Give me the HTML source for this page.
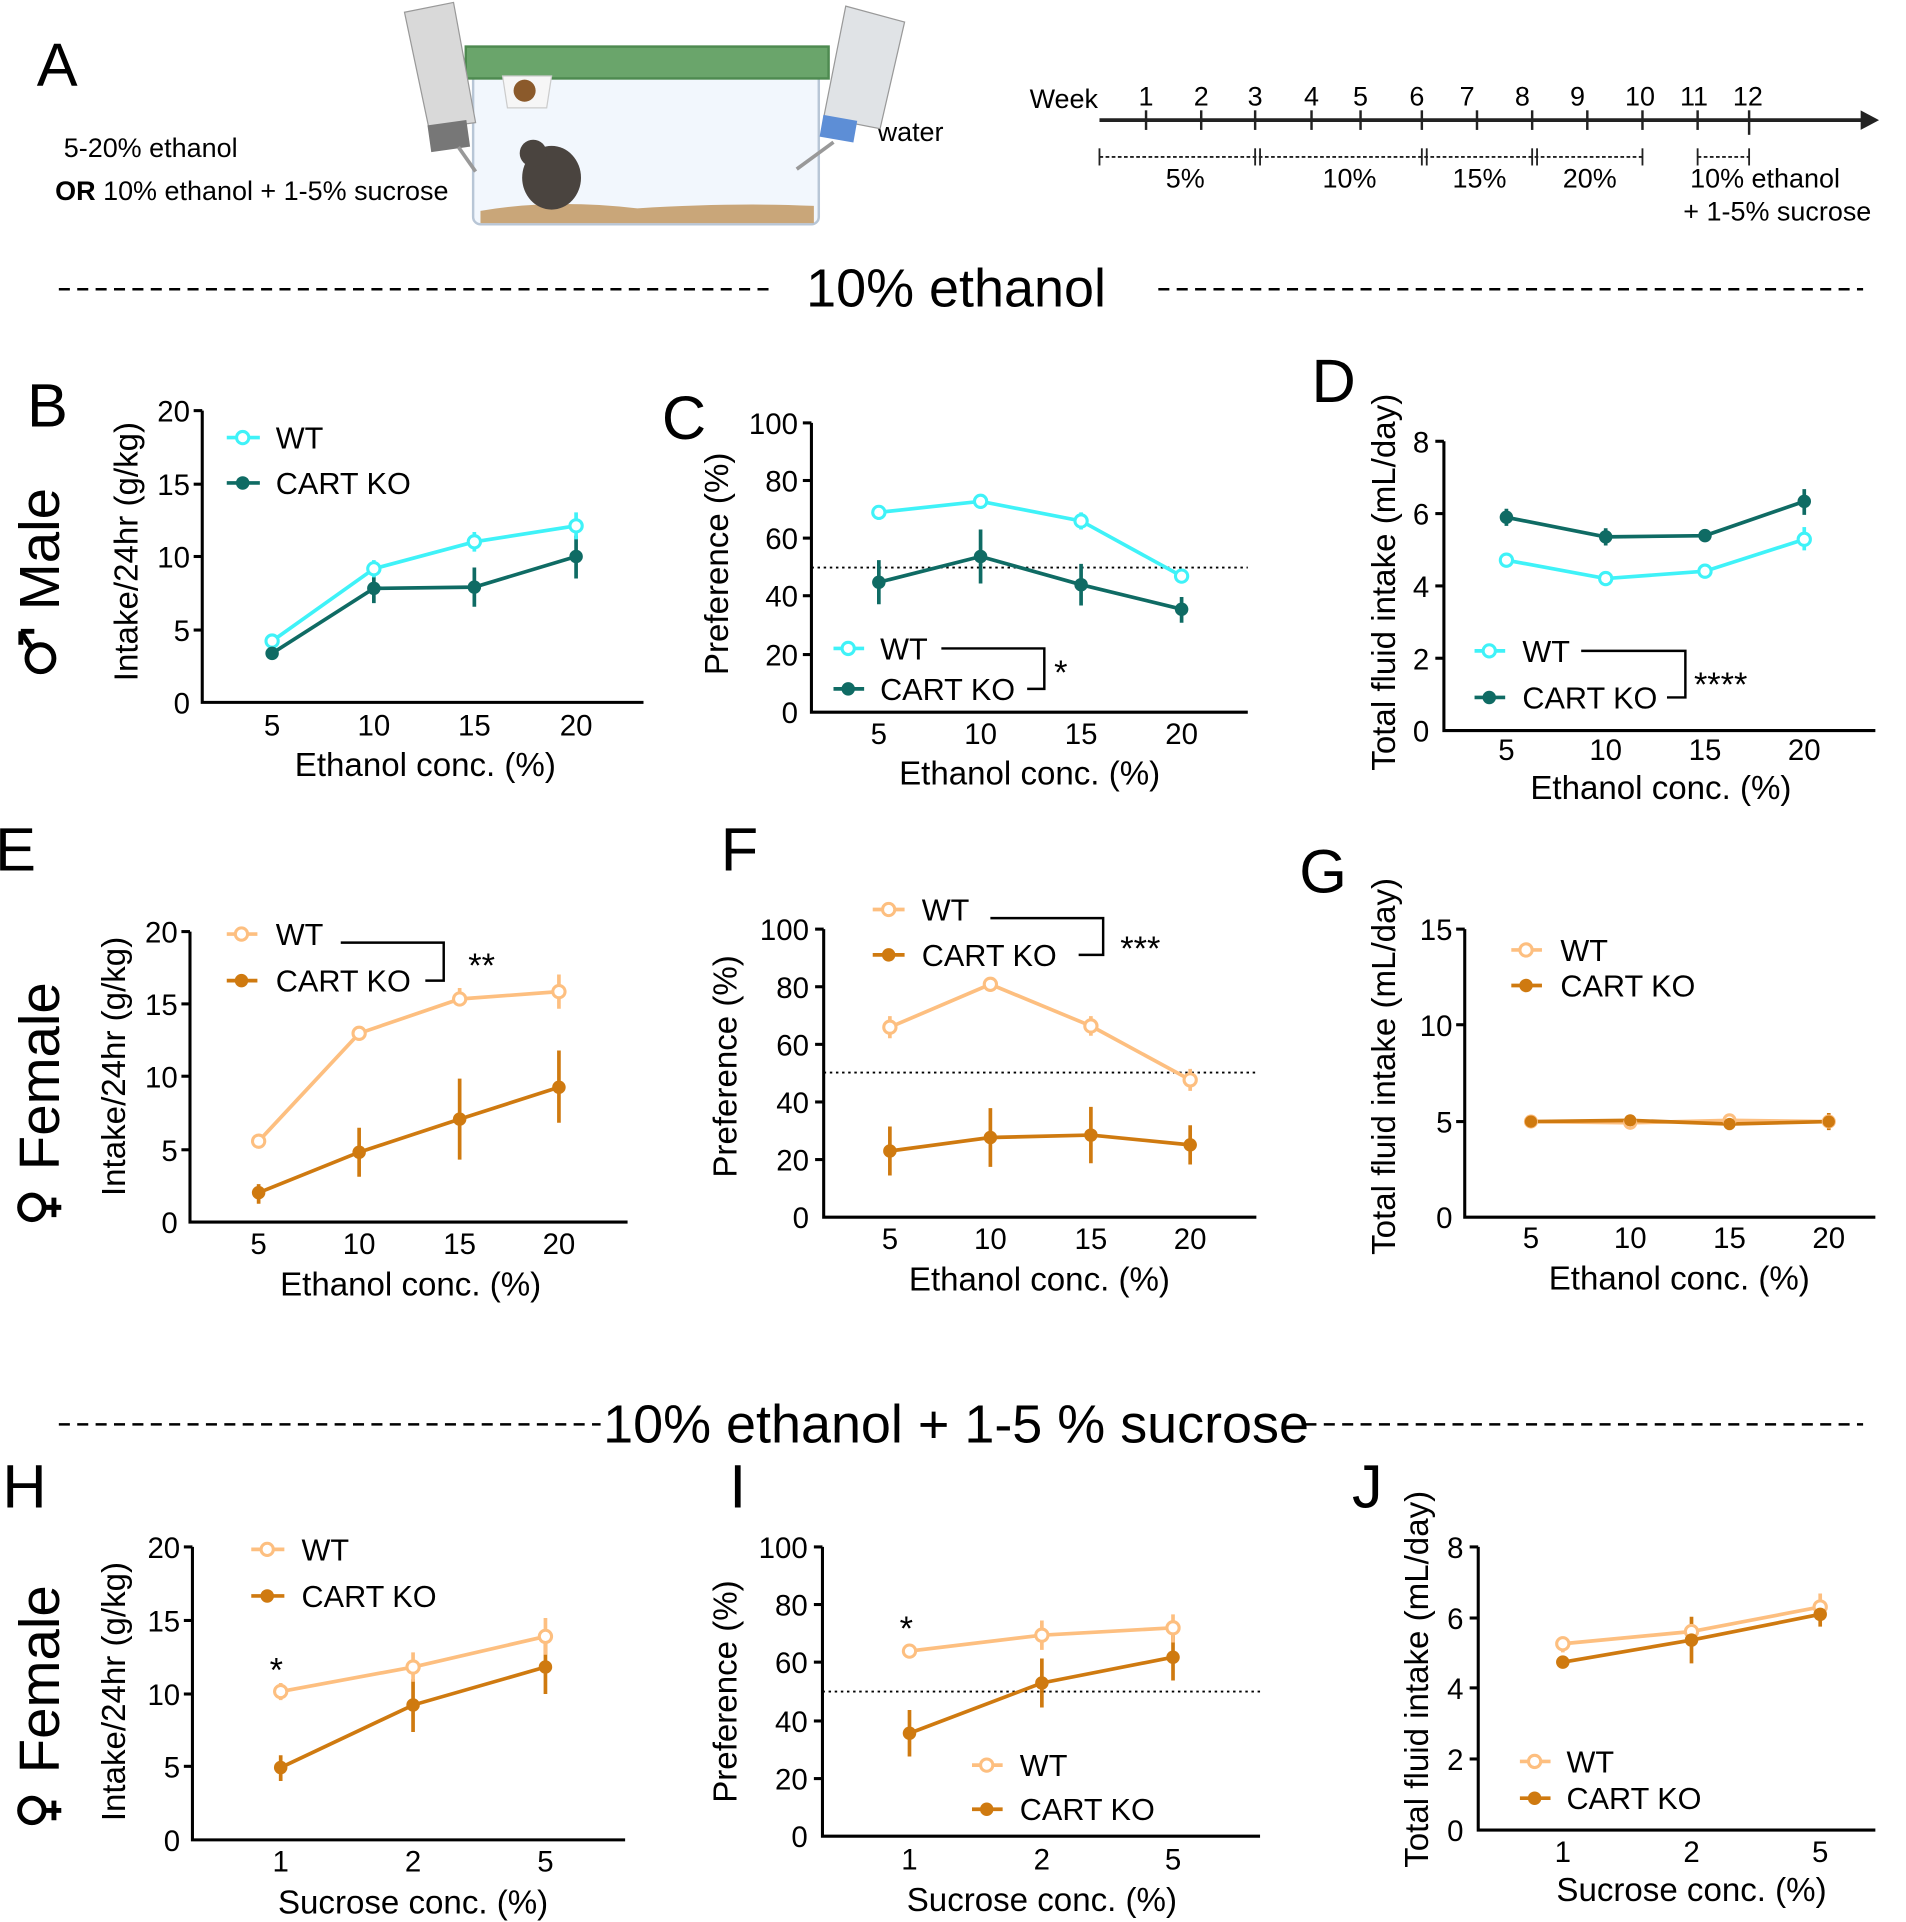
<!DOCTYPE html>
<html><head><meta charset="utf-8"><style>
html,body{margin:0;padding:0;background:#fff}
svg{display:block}
text{font-family:"Liberation Sans",sans-serif;fill:#000}
.t{font-size:24px}
.al{font-size:27px}
.lg{font-size:25px}
.pl{font-size:50px}
.ax{stroke:#000;stroke-width:2.5;fill:none}
.w{stroke:#3ff2f8;stroke-width:3;fill:none}
.k{stroke:#0f6b64;stroke-width:3;fill:none}
.wo{stroke:#fdbf80;stroke-width:3;fill:none}
.ko{stroke:#cf7a10;stroke-width:3;fill:none}
.dot{stroke:#000;stroke-width:1.5;stroke-dasharray:2 3;fill:none}
.dash{stroke:#000;stroke-width:2;stroke-dasharray:9 6;fill:none}
.sx{stroke:#000;stroke-width:4;fill:none}
</style></head><body>
<svg width="1906" height="1922" viewBox="0 0 1555 1568" preserveAspectRatio="none" xmlns="http://www.w3.org/2000/svg">
<!-- Panel A -->
<text x="30" y="70" class="pl">A</text>
<text x="52" y="128" style="font-size:22px">5-20% ethanol</text>
<text x="45" y="163" style="font-size:22px"><tspan font-weight="bold">OR</tspan> 10% ethanol + 1-5% sucrose</text>
<text x="716" y="115" style="font-size:22px">water</text>
<rect x="386" y="55" width="282" height="128" rx="6" fill="#f2f7fd" stroke="#b8c6d6" stroke-width="2"/>
<rect x="380" y="38" width="296" height="26" fill="#6aa56b" stroke="#4e8a50" stroke-width="2"/>
<path d="M392 172 Q450 162 520 170 Q600 165 664 168 L664 182 L392 182Z" fill="#c9a679"/>
<path d="M410 62 L450 62 L446 88 L414 88Z" fill="#f6f6f6" stroke="#ccc"/>
<circle cx="428" cy="74" r="9" fill="#8b5a2b"/>
<ellipse cx="450" cy="145" rx="24" ry="26" fill="#4a443f"/>
<circle cx="435" cy="125" r="11" fill="#4a443f"/>
<path d="M330 10 L370 2 L388 100 L350 105Z" fill="#d9d9d9" stroke="#999"/>
<rect x="350" y="100" width="32" height="22" fill="#777" transform="rotate(-8 366 110)"/>
<path d="M374 120 L388 140" stroke="#999" stroke-width="3"/>
<path d="M690 5 L738 18 L718 105 L672 96Z" fill="#e0e3e6" stroke="#999"/>
<rect x="670" y="96" width="28" height="18" fill="#5d8ed6" transform="rotate(10 684 105)"/>
<path d="M680 116 L650 138" stroke="#999" stroke-width="3"/>
<!-- timeline -->
<text x="840" y="88" style="font-size:22px">Week</text>
<line x1="897" y1="98" x2="1520" y2="98" stroke="#222" stroke-width="3"/>
<path d="M1518 90 L1533 98 L1518 106Z" fill="#222"/>
<g stroke="#222" stroke-width="2">
<line x1="935" y1="90" x2="935" y2="106"/><line x1="980" y1="90" x2="980" y2="106"/><line x1="1024" y1="90" x2="1024" y2="106"/><line x1="1070" y1="90" x2="1070" y2="106"/><line x1="1110" y1="90" x2="1110" y2="106"/><line x1="1160" y1="90" x2="1160" y2="106"/><line x1="1205" y1="90" x2="1205" y2="106"/><line x1="1250" y1="90" x2="1250" y2="106"/><line x1="1295" y1="90" x2="1295" y2="106"/><line x1="1340" y1="90" x2="1340" y2="106"/><line x1="1385" y1="90" x2="1385" y2="106"/><line x1="1427" y1="90" x2="1427" y2="110"/>
</g>
<g style="font-size:22px" text-anchor="middle">
<text x="935" y="86">1</text><text x="980" y="86">2</text><text x="1024" y="86">3</text><text x="1070" y="86">4</text><text x="1110" y="86">5</text><text x="1156" y="86">6</text><text x="1197" y="86">7</text><text x="1242" y="86">8</text><text x="1287" y="86">9</text><text x="1338" y="86">10</text><text x="1382" y="86">11</text><text x="1426" y="86">12</text>
<text x="967" y="153">5%</text><text x="1101" y="153">10%</text><text x="1207" y="153">15%</text><text x="1297" y="153">20%</text><text x="1440" y="153">10% ethanol</text><text x="1450" y="180">+ 1-5% sucrose</text>
</g>
<g stroke="#222" stroke-width="1.5" stroke-dasharray="3 2">
<line x1="897" y1="128" x2="1340" y2="128"/><line x1="1385" y1="128" x2="1427" y2="128"/>
</g>
<g stroke="#222" stroke-width="1.5"><line x1="897" y1="121" x2="897" y2="135"/><line x1="1024" y1="121" x2="1024" y2="135"/><line x1="1028" y1="121" x2="1028" y2="135"/><line x1="1160" y1="121" x2="1160" y2="135"/><line x1="1164" y1="121" x2="1164" y2="135"/><line x1="1250" y1="121" x2="1250" y2="135"/><line x1="1254" y1="121" x2="1254" y2="135"/><line x1="1340" y1="121" x2="1340" y2="135"/><line x1="1385" y1="121" x2="1385" y2="135"/><line x1="1427" y1="121" x2="1427" y2="135"/></g>

<!-- section headings -->
<line x1="48" y1="236" x2="632" y2="236" class="dash"/>
<line x1="945" y1="236" x2="1520" y2="236" class="dash"/>
<text x="780" y="250" text-anchor="middle" style="font-size:44px">10% ethanol</text>
<line x1="48" y1="1162" x2="490" y2="1162" class="dash"/>
<line x1="1065" y1="1162" x2="1520" y2="1162" class="dash"/>
<text x="780" y="1177" text-anchor="middle" style="font-size:44px">10% ethanol + 1-5 % sucrose</text>

<!-- sex labels -->
<text transform="translate(48,448) rotate(-90)" text-anchor="middle" style="font-size:46px">Male</text>
<circle cx="33" cy="537" r="11" class="sx"/><path d="M26 529 L17 515 M17 515 L17 526 M17 515 L28 515" class="sx"/>
<text transform="translate(48,878) rotate(-90)" text-anchor="middle" style="font-size:46px">Female</text>
<circle cx="26" cy="985" r="10" class="sx"/><path d="M36 985 H50 M44 977 V993" class="sx"/>
<text transform="translate(48,1370) rotate(-90)" text-anchor="middle" style="font-size:46px">Female</text>
<circle cx="26" cy="1477" r="10" class="sx"/><path d="M36 1477 H50 M44 1469 V1485" class="sx"/>

<!-- ===== B ===== -->
<text x="22" y="348" class="pl">B</text>
<path d="M165 335 V573 H525" class="ax"/>
<g class="ax"><line x1="158" y1="335" x2="165" y2="335"/><line x1="158" y1="395" x2="165" y2="395"/><line x1="158" y1="454" x2="165" y2="454"/><line x1="158" y1="514" x2="165" y2="514"/></g>
<g class="t" text-anchor="end"><text x="155" y="344">20</text><text x="155" y="404">15</text><text x="155" y="463">10</text><text x="155" y="523">5</text><text x="155" y="582">0</text></g>
<g class="t" text-anchor="middle"><text x="222" y="600">5</text><text x="305" y="600">10</text><text x="387" y="600">15</text><text x="470" y="600">20</text></g>
<text x="347" y="633" class="al" text-anchor="middle">Ethanol conc. (%)</text>
<text transform="translate(112,450) rotate(-90)" class="al" text-anchor="middle">Intake/24hr (g/kg)</text>
<g class="k"><path d="M222 528V538M305 468V492M387 463V495M470 437V472"/></g>
<g class="w"><path d="M222 519V527M305 457V471M387 434V450M470 418V440"/></g>
<polyline class="w" points="222,523 305,464 387,442 470,429"/>
<polyline class="k" points="222,533 305,480 387,479 470,454"/>
<g fill="#fff" stroke="#3ff2f8" stroke-width="2.5"><circle cx="222" cy="523" r="5"/><circle cx="305" cy="464" r="5"/><circle cx="387" cy="442" r="5"/><circle cx="470" cy="429" r="5"/></g>
<g fill="#0f6b64"><circle cx="222" cy="533" r="5.5"/><circle cx="305" cy="480" r="5.5"/><circle cx="387" cy="479" r="5.5"/><circle cx="470" cy="454" r="5.5"/></g>
<line x1="185" y1="357" x2="212" y2="357" class="w"/><circle cx="198" cy="357" r="5" fill="#fff" stroke="#3ff2f8" stroke-width="2.5"/>
<line x1="185" y1="394" x2="212" y2="394" class="k"/><circle cx="198" cy="394" r="5.5" fill="#0f6b64"/>
<text x="225" y="366" class="lg">WT</text><text x="225" y="403" class="lg">CART KO</text>

<!-- ===== C ===== -->
<text x="540" y="358" class="pl">C</text>
<path d="M662 345 V581 H1018" class="ax"/>
<g class="ax"><line x1="655" y1="345" x2="662" y2="345"/><line x1="655" y1="392" x2="662" y2="392"/><line x1="655" y1="439" x2="662" y2="439"/><line x1="655" y1="486" x2="662" y2="486"/><line x1="655" y1="534" x2="662" y2="534"/></g>
<g class="t" text-anchor="end"><text x="651" y="354">100</text><text x="651" y="401">80</text><text x="651" y="448">60</text><text x="651" y="495">40</text><text x="651" y="543">20</text><text x="651" y="590">0</text></g>
<g class="t" text-anchor="middle"><text x="717" y="607">5</text><text x="800" y="607">10</text><text x="882" y="607">15</text><text x="964" y="607">20</text></g>
<text x="840" y="640" class="al" text-anchor="middle">Ethanol conc. (%)</text>
<text transform="translate(594,460) rotate(-90)" class="al" text-anchor="middle">Preference (%)</text>
<line x1="662" y1="463" x2="1018" y2="463" class="dot"/>
<g class="k"><path d="M717 457V493M800 432V476M882 460V494M964 487V508"/></g>
<g class="w"><path d="M717 412V424M800 403V415M882 418V432M964 464V476"/></g>
<polyline class="w" points="717,418 800,409 882,425 964,470"/>
<polyline class="k" points="717,475 800,454 882,477 964,497"/>
<g fill="#fff" stroke="#3ff2f8" stroke-width="2.5"><circle cx="717" cy="418" r="5"/><circle cx="800" cy="409" r="5"/><circle cx="882" cy="425" r="5"/><circle cx="964" cy="470" r="5"/></g>
<g fill="#0f6b64"><circle cx="717" cy="475" r="5.5"/><circle cx="800" cy="454" r="5.5"/><circle cx="882" cy="477" r="5.5"/><circle cx="964" cy="497" r="5.5"/></g>
<line x1="680" y1="529" x2="705" y2="529" class="w"/><circle cx="692" cy="529" r="5" fill="#fff" stroke="#3ff2f8" stroke-width="2.5"/>
<line x1="680" y1="562" x2="705" y2="562" class="k"/><circle cx="692" cy="562" r="5.5" fill="#0f6b64"/>
<text x="718" y="538" class="lg">WT</text><text x="718" y="571" class="lg">CART KO</text>
<path d="M768 529 H852 V562 H838" class="ax" style="stroke-width:2"/>
<text x="860" y="558" style="font-size:28px">*</text>

<!-- ===== D ===== -->
<text x="1070" y="328" class="pl">D</text>
<path d="M1178 360 V596 H1530" class="ax"/>
<g class="ax"><line x1="1171" y1="360" x2="1178" y2="360"/><line x1="1171" y1="419" x2="1178" y2="419"/><line x1="1171" y1="478" x2="1178" y2="478"/><line x1="1171" y1="537" x2="1178" y2="537"/></g>
<g class="t" text-anchor="end"><text x="1166" y="369">8</text><text x="1166" y="428">6</text><text x="1166" y="487">4</text><text x="1166" y="546">2</text><text x="1166" y="605">0</text></g>
<g class="t" text-anchor="middle"><text x="1229" y="620">5</text><text x="1310" y="620">10</text><text x="1391" y="620">15</text><text x="1472" y="620">20</text></g>
<text x="1355" y="652" class="al" text-anchor="middle">Ethanol conc. (%)</text>
<text transform="translate(1138,475) rotate(-90)" class="al" text-anchor="middle">Total fluid intake (mL/day)</text>
<g class="k"><path d="M1229 415V429M1310 431V445M1391 432V442M1472 399V420"/></g>
<g class="w"><path d="M1472 430V449"/></g>
<polyline class="w" points="1229,457 1310,472 1391,466 1472,440"/>
<polyline class="k" points="1229,422 1310,438 1391,437 1472,409"/>
<g fill="#fff" stroke="#3ff2f8" stroke-width="2.5"><circle cx="1229" cy="457" r="5"/><circle cx="1310" cy="472" r="5"/><circle cx="1391" cy="466" r="5"/><circle cx="1472" cy="440" r="5"/></g>
<g fill="#0f6b64"><circle cx="1229" cy="422" r="5.5"/><circle cx="1310" cy="438" r="5.5"/><circle cx="1391" cy="437" r="5.5"/><circle cx="1472" cy="409" r="5.5"/></g>
<line x1="1203" y1="531" x2="1228" y2="531" class="w"/><circle cx="1215" cy="531" r="5" fill="#fff" stroke="#3ff2f8" stroke-width="2.5"/>
<line x1="1203" y1="569" x2="1228" y2="569" class="k"/><circle cx="1215" cy="569" r="5.5" fill="#0f6b64"/>
<text x="1242" y="540" class="lg">WT</text><text x="1242" y="578" class="lg">CART KO</text>
<path d="M1290 531 H1375 V569 H1360" class="ax" style="stroke-width:2"/>
<text x="1382" y="568" style="font-size:28px">****</text>

<!-- ===== E ===== -->
<text x="-4" y="710" class="pl">E</text>
<path d="M155 760 V997 H512" class="ax"/>
<g class="ax"><line x1="148" y1="760" x2="155" y2="760"/><line x1="148" y1="819" x2="155" y2="819"/><line x1="148" y1="878" x2="155" y2="878"/><line x1="148" y1="938" x2="155" y2="938"/></g>
<g class="t" text-anchor="end"><text x="145" y="769">20</text><text x="145" y="828">15</text><text x="145" y="887">10</text><text x="145" y="947">5</text><text x="145" y="1006">0</text></g>
<g class="t" text-anchor="middle"><text x="211" y="1023">5</text><text x="293" y="1023">10</text><text x="375" y="1023">15</text><text x="456" y="1023">20</text></g>
<text x="335" y="1057" class="al" text-anchor="middle">Ethanol conc. (%)</text>
<text transform="translate(102,870) rotate(-90)" class="al" text-anchor="middle">Intake/24hr (g/kg)</text>
<g class="ko"><path d="M211 966V982M293 920V960M375 880V946M456 857V916"/></g>
<g class="wo"><path d="M375 806V821M456 795V823"/></g>
<polyline class="wo" points="211,931 293,843 375,815 456,809"/>
<polyline class="ko" points="211,973 293,940 375,913 456,887"/>
<g fill="#fff" stroke="#fdbf80" stroke-width="2.5"><circle cx="211" cy="931" r="5"/><circle cx="293" cy="843" r="5"/><circle cx="375" cy="815" r="5"/><circle cx="456" cy="809" r="5"/></g>
<g fill="#cf7a10"><circle cx="211" cy="973" r="5.5"/><circle cx="293" cy="940" r="5.5"/><circle cx="375" cy="913" r="5.5"/><circle cx="456" cy="887" r="5.5"/></g>
<line x1="185" y1="762" x2="210" y2="762" class="wo"/><circle cx="197" cy="762" r="5" fill="#fff" stroke="#fdbf80" stroke-width="2.5"/>
<line x1="185" y1="800" x2="210" y2="800" class="ko"/><circle cx="197" cy="800" r="5.5" fill="#cf7a10"/>
<text x="225" y="771" class="lg">WT</text><text x="225" y="809" class="lg">CART KO</text>
<path d="M278 769 H362 V800 H347" class="ax" style="stroke-width:2"/>
<text x="382" y="797" style="font-size:28px">**</text>

<!-- ===== F ===== -->
<text x="588" y="710" class="pl">F</text>
<path d="M672 758 V993 H1025" class="ax"/>
<g class="ax"><line x1="665" y1="758" x2="672" y2="758"/><line x1="665" y1="805" x2="672" y2="805"/><line x1="665" y1="852" x2="672" y2="852"/><line x1="665" y1="899" x2="672" y2="899"/><line x1="665" y1="946" x2="672" y2="946"/></g>
<g class="t" text-anchor="end"><text x="660" y="767">100</text><text x="660" y="814">80</text><text x="660" y="861">60</text><text x="660" y="908">40</text><text x="660" y="955">20</text><text x="660" y="1002">0</text></g>
<g class="t" text-anchor="middle"><text x="726" y="1019">5</text><text x="808" y="1019">10</text><text x="890" y="1019">15</text><text x="971" y="1019">20</text></g>
<text x="848" y="1053" class="al" text-anchor="middle">Ethanol conc. (%)</text>
<text transform="translate(601,870) rotate(-90)" class="al" text-anchor="middle">Preference (%)</text>
<line x1="672" y1="875" x2="1025" y2="875" class="dot"/>
<g class="ko"><path d="M726 919V959M808 904V952M890 903V949M971 918V950"/></g>
<g class="wo"><path d="M726 829V847M890 829V845M971 872V890"/></g>
<polyline class="wo" points="726,838 808,803 890,837 971,881"/>
<polyline class="ko" points="726,939 808,928 890,926 971,934"/>
<g fill="#fff" stroke="#fdbf80" stroke-width="2.5"><circle cx="726" cy="838" r="5"/><circle cx="808" cy="803" r="5"/><circle cx="890" cy="837" r="5"/><circle cx="971" cy="881" r="5"/></g>
<g fill="#cf7a10"><circle cx="726" cy="939" r="5.5"/><circle cx="808" cy="928" r="5.5"/><circle cx="890" cy="926" r="5.5"/><circle cx="971" cy="934" r="5.5"/></g>
<line x1="712" y1="742" x2="738" y2="742" class="wo"/><circle cx="725" cy="742" r="5" fill="#fff" stroke="#fdbf80" stroke-width="2.5"/>
<line x1="712" y1="779" x2="738" y2="779" class="ko"/><circle cx="725" cy="779" r="5.5" fill="#cf7a10"/>
<text x="752" y="751" class="lg">WT</text><text x="752" y="788" class="lg">CART KO</text>
<path d="M808 749 H900 V779 H880" class="ax" style="stroke-width:2"/>
<text x="914" y="783" style="font-size:28px">***</text>

<!-- ===== G ===== -->
<text x="1060" y="728" class="pl">G</text>
<path d="M1195 758 V993 H1530" class="ax"/>
<g class="ax"><line x1="1188" y1="758" x2="1195" y2="758"/><line x1="1188" y1="836" x2="1195" y2="836"/><line x1="1188" y1="915" x2="1195" y2="915"/></g>
<g class="t" text-anchor="end"><text x="1185" y="767">15</text><text x="1185" y="845">10</text><text x="1185" y="924">5</text><text x="1185" y="1002">0</text></g>
<g class="t" text-anchor="middle"><text x="1249" y="1018">5</text><text x="1330" y="1018">10</text><text x="1411" y="1018">15</text><text x="1492" y="1018">20</text></g>
<text x="1370" y="1052" class="al" text-anchor="middle">Ethanol conc. (%)</text>
<text transform="translate(1138,870) rotate(-90)" class="al" text-anchor="middle">Total fluid intake (mL/day)</text>
<g class="ko"><path d="M1249 910V920M1330 910V920M1411 912V922M1492 908V922"/></g>
<polyline class="wo" points="1249,915 1330,916 1411,914 1492,915"/>
<polyline class="ko" points="1249,915 1330,914 1411,917 1492,915"/>
<g fill="#fff" stroke="#fdbf80" stroke-width="2.5"><circle cx="1249" cy="915" r="4.5"/><circle cx="1330" cy="916" r="4.5"/><circle cx="1411" cy="914" r="4.5"/><circle cx="1492" cy="915" r="4.5"/></g>
<g fill="#cf7a10"><circle cx="1249" cy="915" r="5"/><circle cx="1330" cy="914" r="5"/><circle cx="1411" cy="917" r="5"/><circle cx="1492" cy="915" r="5"/></g>
<line x1="1233" y1="775" x2="1258" y2="775" class="wo"/><circle cx="1245" cy="775" r="5" fill="#fff" stroke="#fdbf80" stroke-width="2.5"/>
<line x1="1233" y1="804" x2="1258" y2="804" class="ko"/><circle cx="1245" cy="804" r="5.5" fill="#cf7a10"/>
<text x="1273" y="784" class="lg">WT</text><text x="1273" y="813" class="lg">CART KO</text>

<!-- ===== H ===== -->
<text x="2" y="1230" class="pl">H</text>
<path d="M157 1262 V1501 H510" class="ax"/>
<g class="ax"><line x1="150" y1="1262" x2="157" y2="1262"/><line x1="150" y1="1322" x2="157" y2="1322"/><line x1="150" y1="1382" x2="157" y2="1382"/><line x1="150" y1="1441" x2="157" y2="1441"/></g>
<g class="t" text-anchor="end"><text x="147" y="1271">20</text><text x="147" y="1331">15</text><text x="147" y="1391">10</text><text x="147" y="1450">5</text><text x="147" y="1510">0</text></g>
<g class="t" text-anchor="middle"><text x="229" y="1527">1</text><text x="337" y="1527">2</text><text x="445" y="1527">5</text></g>
<text x="337" y="1561" class="al" text-anchor="middle">Sucrose conc. (%)</text>
<text transform="translate(102,1380) rotate(-90)" class="al" text-anchor="middle">Intake/24hr (g/kg)</text>
<g class="ko"><path d="M229 1432V1453M337 1370V1413M445 1338V1382"/></g>
<g class="wo"><path d="M229 1373V1387M337 1348V1372M445 1320V1350"/></g>
<polyline class="wo" points="229,1380 337,1360 445,1335"/>
<polyline class="ko" points="229,1442 337,1391 445,1360"/>
<g fill="#fff" stroke="#fdbf80" stroke-width="2.5"><circle cx="229" cy="1380" r="5"/><circle cx="337" cy="1360" r="5"/><circle cx="445" cy="1335" r="5"/></g>
<g fill="#cf7a10"><circle cx="229" cy="1442" r="5.5"/><circle cx="337" cy="1391" r="5.5"/><circle cx="445" cy="1360" r="5.5"/></g>
<line x1="205" y1="1264" x2="232" y2="1264" class="wo"/><circle cx="218" cy="1264" r="5" fill="#fff" stroke="#fdbf80" stroke-width="2.5"/>
<line x1="205" y1="1302" x2="232" y2="1302" class="ko"/><circle cx="218" cy="1302" r="5.5" fill="#cf7a10"/>
<text x="246" y="1273" class="lg">WT</text><text x="246" y="1311" class="lg">CART KO</text>
<text x="220" y="1372" style="font-size:28px">*</text>

<!-- ===== I ===== -->
<text x="595" y="1230" class="pl">I</text>
<path d="M671 1262 V1498 H1028" class="ax"/>
<g class="ax"><line x1="664" y1="1262" x2="671" y2="1262"/><line x1="664" y1="1309" x2="671" y2="1309"/><line x1="664" y1="1356" x2="671" y2="1356"/><line x1="664" y1="1404" x2="671" y2="1404"/><line x1="664" y1="1451" x2="671" y2="1451"/></g>
<g class="t" text-anchor="end"><text x="659" y="1271">100</text><text x="659" y="1318">80</text><text x="659" y="1365">60</text><text x="659" y="1413">40</text><text x="659" y="1460">20</text><text x="659" y="1507">0</text></g>
<g class="t" text-anchor="middle"><text x="742" y="1525">1</text><text x="850" y="1525">2</text><text x="957" y="1525">5</text></g>
<text x="850" y="1559" class="al" text-anchor="middle">Sucrose conc. (%)</text>
<text transform="translate(601,1380) rotate(-90)" class="al" text-anchor="middle">Preference (%)</text>
<line x1="671" y1="1380" x2="1028" y2="1380" class="dot"/>
<g class="ko"><path d="M742 1395V1433M850 1353V1393M957 1334V1371"/></g>
<g class="wo"><path d="M742 1342V1352M850 1322V1346M957 1317V1340"/></g>
<polyline class="wo" points="742,1347 850,1334 957,1328"/>
<polyline class="ko" points="742,1414 850,1373 957,1352"/>
<g fill="#fff" stroke="#fdbf80" stroke-width="2.5"><circle cx="742" cy="1347" r="5"/><circle cx="850" cy="1334" r="5"/><circle cx="957" cy="1328" r="5"/></g>
<g fill="#cf7a10"><circle cx="742" cy="1414" r="5.5"/><circle cx="850" cy="1373" r="5.5"/><circle cx="957" cy="1352" r="5.5"/></g>
<line x1="793" y1="1440" x2="818" y2="1440" class="wo"/><circle cx="805" cy="1440" r="5" fill="#fff" stroke="#fdbf80" stroke-width="2.5"/>
<line x1="793" y1="1476" x2="818" y2="1476" class="ko"/><circle cx="805" cy="1476" r="5.5" fill="#cf7a10"/>
<text x="832" y="1449" class="lg">WT</text><text x="832" y="1485" class="lg">CART KO</text>
<text x="734" y="1338" style="font-size:28px">*</text>

<!-- ===== J ===== -->
<text x="1103" y="1230" class="pl">J</text>
<path d="M1206 1262 V1493 H1530" class="ax"/>
<g class="ax"><line x1="1199" y1="1262" x2="1206" y2="1262"/><line x1="1199" y1="1320" x2="1206" y2="1320"/><line x1="1199" y1="1377" x2="1206" y2="1377"/><line x1="1199" y1="1435" x2="1206" y2="1435"/></g>
<g class="t" text-anchor="end"><text x="1194" y="1271">8</text><text x="1194" y="1329">6</text><text x="1194" y="1386">4</text><text x="1194" y="1444">2</text><text x="1194" y="1502">0</text></g>
<g class="t" text-anchor="middle"><text x="1275" y="1519">1</text><text x="1380" y="1519">2</text><text x="1485" y="1519">5</text></g>
<text x="1380" y="1551" class="al" text-anchor="middle">Sucrose conc. (%)</text>
<text transform="translate(1165,1370) rotate(-90)" class="al" text-anchor="middle">Total fluid intake (mL/day)</text>
<g class="ko"><path d="M1275 1352V1359M1380 1319V1357M1485 1307V1327"/></g>
<g class="wo"><path d="M1275 1335V1348M1485 1300V1320"/></g>
<polyline class="wo" points="1275,1341 1380,1331 1485,1311"/>
<polyline class="ko" points="1275,1356 1380,1338 1485,1317"/>
<g fill="#fff" stroke="#fdbf80" stroke-width="2.5"><circle cx="1275" cy="1341" r="5"/><circle cx="1380" cy="1331" r="5"/><circle cx="1485" cy="1311" r="5"/></g>
<g fill="#cf7a10"><circle cx="1275" cy="1356" r="5.5"/><circle cx="1380" cy="1338" r="5.5"/><circle cx="1485" cy="1317" r="5.5"/></g>
<line x1="1240" y1="1437" x2="1265" y2="1437" class="wo"/><circle cx="1252" cy="1437" r="5" fill="#fff" stroke="#fdbf80" stroke-width="2.5"/>
<line x1="1240" y1="1467" x2="1265" y2="1467" class="ko"/><circle cx="1252" cy="1467" r="5.5" fill="#cf7a10"/>
<text x="1278" y="1446" class="lg">WT</text><text x="1278" y="1476" class="lg">CART KO</text>
</svg>
</body></html>
